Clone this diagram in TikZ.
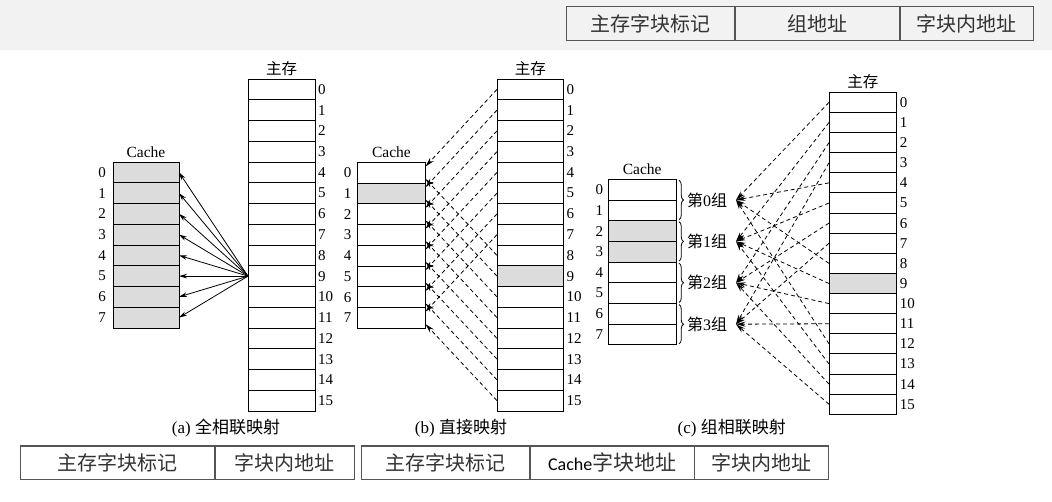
\documentclass[tikz,border=0pt]{standalone}
\usepackage{fontspec}
\setmainfont{Liberation Serif}
\newfontfamily\cjk{Noto Sans CJK SC}
\newfontfamily\calib{Carlito}
\usetikzlibrary{arrows.meta, positioning, calc, decorations.pathreplacing}
\definecolor{bgtop}{HTML}{F2F2F2}
\definecolor{hit}{HTML}{DCDCDC}
\definecolor{tabline}{HTML}{555555}

\begin{document}
\begin{tikzpicture}[x=1pt, y=-1pt,
    cell/.style={draw, line width=0.9pt, inner sep=0pt, outer sep=0pt, anchor=north west,
                 minimum width=67pt, minimum height=20.75pt},
    hl/.code 2 args={\ifnum#1=#2\relax\pgfkeysalso{fill=hit}\fi},
    num/.style={inner sep=1pt, font=\fontsize{15}{18}\selectfont},
    lbl/.style={inner sep=1pt, font=\fontsize{15.5}{18}\selectfont},
    capt/.style={inner sep=1pt, font=\fontsize{17}{20}\selectfont},
    grplbl/.style={inner sep=1pt, font=\fontsize{16}{19}\selectfont},
    tagcell/.style={draw=tabline, line width=1.2pt, inner sep=0pt, outer sep=0pt,
                    minimum height=34pt, anchor=north west, text=black!80,
                    font=\cjk\fontsize{20}{24}\selectfont},
    solidarr/.style={-{Stealth[length=8pt, width=4.5pt]}, line width=0.8pt},
    dasharr/.style={-{Stealth[length=9.5pt, width=5pt]}, line width=0.8pt, dash pattern=on 4pt off 3pt},
    gbrace/.style={decorate, decoration={brace, amplitude=4.5pt}, line width=0.8pt}]
    \fill[white] (0,0) rectangle (1052,501);
    \fill[bgtop] (0,0) rectangle (1052,50);
    \useasboundingbox (0,0) rectangle (1052,501);

    % (a)
    \foreach \i in {0,...,15}{
      \node[cell] (ma-\i) at (248,{79+20.75*\i}) {};
      \node[num, right=2pt of ma-\i] {\i};
    }
    \node[lbl, above=2pt of ma-0] {{\cjk 主存}};
    \foreach \i in {0,...,7}{
      \node[cell, fill=hit, minimum width=66pt] (ca-\i) at (113,{162+20.75*\i}) {};
      \node[num, left=6pt of ca-\i] {\i};
    }
    \node[lbl, above=3pt of ca-0] {Cache};
    \foreach \i in {0,...,7}
      \draw[solidarr] (ma-9.west) -- (ca-\i.east);
    \node[capt] (capa) at (226,428) {(a) {\cjk 全相联映射}};

    % (b)
    \foreach \i in {0,...,15}{
      \node[cell, hl={\i}{9}, minimum width=66.5pt] (mb-\i) at (497,{79+20.75*\i}) {};
      \node[num, right=2pt of mb-\i] {\i};
    }
    \node[lbl, above=2pt of mb-0] {{\cjk 主存}};
    \foreach \i in {0,...,7}{
      \node[cell, hl={\i}{1}, minimum width=68pt] (cb-\i) at (357.5,{162.3+20.75*\i}) {};
      \node[num, left=5pt of cb-\i] {\i};
    }
    \node[lbl, above=3pt of cb-0] {Cache};
    \foreach \i in {0,...,15}{
      \pgfmathtruncatemacro\j{mod(\i,8)}
      \pgfmathsetmacro\p{\i<8 ? 0.2 : 0.8}
      \draw[dasharr] (mb-\i.west) -- ($(cb-\j.north east)!\p!(cb-\j.south east)$);
    }
    \node[capt] (capb) at (461,428) {(b) {\cjk 直接映射}};

    % (c)
    \foreach \i in {0,...,15}{
      \node[cell, hl={\i}{9}, minimum width=67.7pt, minimum height=20.125pt] (mc-\i) at (829,{92.3+20.125*\i}) {};
      \node[num, right=2pt of mc-\i] {\i};
    }
    \node[lbl, above=2pt of mc-0] {{\cjk 主存}};
    \foreach \i in {0,...,7}{
      \node[cell, hl={\i}{2}, hl={\i}{3}, minimum width=67.7pt, minimum height=20.7pt] (cc-\i) at (608.3,{179.3+20.7*\i}) {};
      \node[num, left=4pt of cc-\i] {\i};
    }
    \node[lbl, above=3pt of cc-0] {Cache};
    \foreach \k in {0,...,3}{
      \pgfmathtruncatemacro\a{2*\k}
      \pgfmathtruncatemacro\b{2*\k+1}
      \draw[gbrace] ($(cc-\a.north east)+(3,1)$) -- ($(cc-\b.south east)+(3,-1)$);
      \node[grplbl] (grp-\k) at (707,{179.3+20.7*(2*\k+1)}) {{\cjk 第}\k{\cjk 组}};
      \coordinate (gt-\k) at (736,{179.3+20.7*(2*\k+1)});
    }
    \foreach \i in {0,...,15}{
      \pgfmathtruncatemacro\k{mod(\i,4)}
      \draw[dasharr] (mc-\i.west) -- (gt-\k);
    }
    \node[capt] (capc) at (731.7,428) {(c) {\cjk 组相联映射}};

    % address formats
    \node[tagcell, minimum width=168.3pt] (ta-1) at (566.7,6.7) {主存字块标记};
    \node[tagcell, minimum width=165pt, right=0pt of ta-1] (ta-2) {组地址};
    \node[tagcell, minimum width=133.3pt, right=0pt of ta-2] (ta-3) {字块内地址};

    \node[tagcell, minimum height=33.3pt, minimum width=194.3pt] (tb-1) at (20.7,446) {主存字块标记};
    \node[tagcell, minimum height=33.3pt, minimum width=139.3pt, right=0pt of tb-1] (tb-2) {字块内地址};

    \node[tagcell, minimum height=33.3pt, minimum width=168.3pt] (tc-1) at (361.7,446) {主存字块标记};
    \node[tagcell, minimum height=33.3pt, minimum width=164.3pt, right=0pt of tc-1] (tc-2)
      {{\calib\fontsize{18}{21}\selectfont\color{black}Cache}{\fontsize{21}{25}\selectfont 字块地址}};
    \node[tagcell, minimum height=33.3pt, minimum width=134pt, right=0pt of tc-2] (tc-3) {字块内地址};
\end{tikzpicture}
\end{document}
